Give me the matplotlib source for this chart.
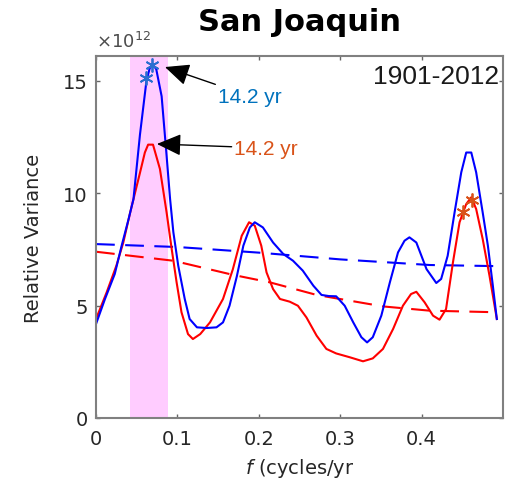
import numpy as np
import matplotlib.pyplot as plt

# values in units of 1e12
f_blue = [0, 0.011, 0.023, 0.0315, 0.040, 0.046, 0.054, 0.062, 0.066, 0.070, 0.074, 0.0806, 0.0867,
          0.091, 0.095, 0.101, 0.109, 0.115, 0.124, 0.136, 0.148, 0.156, 0.164, 0.173, 0.181,
          0.189, 0.195, 0.205, 0.2175, 0.230, 0.242, 0.254, 0.267, 0.277, 0.286, 0.295, 0.3055,
          0.316, 0.326, 0.333, 0.340, 0.3505, 0.361, 0.371, 0.379, 0.385, 0.3935, 0.406, 0.418,
          0.424, 0.432, 0.4405, 0.4487, 0.4548, 0.461, 0.467, 0.475, 0.4814, 0.4875, 0.4924]
v_blue = [4.18, 5.29, 6.4, 7.66, 8.84, 9.73, 12.6, 15.0, 15.55, 15.7, 15.5, 14.3, 11.66,
          9.73, 8.26, 6.77, 5.29, 4.4, 4.03, 4.0, 4.03, 4.25, 4.99, 6.3, 7.66,
          8.47, 8.7, 8.47, 7.8, 7.29, 6.99, 6.55, 5.88, 5.47, 5.42, 5.41, 4.99,
          4.25, 3.59, 3.36, 3.59, 4.55, 6.03, 7.36, 7.88, 8.03, 7.8, 6.62, 6.0,
          6.18, 7.21, 9.14, 10.92, 11.8, 11.8, 10.92, 9.14, 7.66, 5.88, 4.4]

f_red = [0, 0.013, 0.025, 0.0335, 0.042, 0.054, 0.060, 0.064, 0.070, 0.0785, 0.0867,
         0.093, 0.099, 0.105, 0.113, 0.119, 0.128, 0.140, 0.156, 0.168, 0.179, 0.188,
         0.195, 0.203, 0.2095, 0.2175, 0.226, 0.238, 0.248, 0.2585, 0.271, 0.283, 0.295,
         0.3117, 0.328, 0.340, 0.3525, 0.365, 0.377, 0.387, 0.3935, 0.4037, 0.414, 0.422,
         0.430, 0.4385, 0.4466, 0.4548, 0.461, 0.467, 0.475, 0.4834, 0.4924]
v_red = [4.4, 5.58, 6.77, 7.8, 9.14, 10.9, 11.8, 12.15, 12.15, 11.07, 9.14,
         7.5, 6.03, 4.7, 3.73, 3.51, 3.73, 4.25, 5.29, 6.6, 8.1, 8.7,
         8.55, 7.66, 6.47, 5.73, 5.29, 5.17, 4.99, 4.47, 3.66, 3.07, 2.87,
         2.7, 2.52, 2.65, 3.07, 3.96, 4.99, 5.51, 5.61, 5.14, 4.55, 4.37,
         4.84, 6.92, 8.7, 9.51, 9.81, 9.29, 7.96, 6.32, 4.4]

# red-noise backgrounds (dashed)
f_blue_bg = [0, 0.1, 0.2, 0.3, 0.41, 0.4924]
v_blue_bg = [7.73, 7.6, 7.35, 7.05, 6.8, 6.75]
f_red_bg = [0, 0.095, 0.1685, 0.2135, 0.271, 0.3525, 0.41, 0.4924]
v_red_bg = [7.39, 6.99, 6.36, 6.03, 5.47, 4.96, 4.77, 4.7]

# significant peaks
f_blue_pk = [0.062, 0.069]
v_blue_pk = [15.1, 15.7]
f_red_pk = [0.451, 0.462]
v_red_pk = [9.17, 9.7]

band = [0.042, 0.088]
period_label = '14.2 yr'
years = '1901-2012'

c_blue_txt = '#0072BD'
c_red_txt = '#D95319'


def main():
    fig = plt.figure(figsize=(5.23, 4.81), dpi=100)
    ax = fig.add_axes([0.1836, 0.1289, 0.7782, 0.7526])

    ax.axvspan(band[0], band[1], color='#FFCCFF', lw=0, zorder=0)

    ax.plot(f_blue_bg, v_blue_bg, color='blue', lw=1.5, dashes=(9, 5))
    ax.plot(f_red_bg, v_red_bg, color='red', lw=1.5, dashes=(9, 5))
    ax.plot(f_red, v_red, color='red', lw=1.5)
    ax.plot(f_blue, v_blue, color='blue', lw=1.5)

    # matlab style asterisk
    ast = (6, 2, 0)
    ax.plot(f_blue_pk, v_blue_pk, ls='none', marker=ast, color='#2A6FD0', ms=10, mew=1.3)
    ax.plot(f_red_pk, v_red_pk, ls='none', marker=ast, color=c_red_txt, ms=10, mew=1.3)

    arrow = dict(arrowstyle='-|>,head_length=1.0,head_width=0.45', color='black', lw=1,
                 shrinkA=0, shrinkB=0)
    ax.annotate(period_label, xy=(0.0847, 15.6), xytext=(0.150, 14.3), color=c_blue_txt,
                fontsize=15, family='Liberation Sans', va='center', arrowprops=arrow)
    ax.annotate(period_label, xy=(0.0748, 12.18), xytext=(0.170, 12.0), color=c_red_txt,
                fontsize=15, family='Liberation Sans', va='center', arrowprops=arrow)

    ax.text(0.99, 0.945, years, transform=ax.transAxes, ha='right', va='center',
            fontsize=19, family='Liberation Sans', color='#1a1a1a')

    ax.set_xlim(0, 0.5)
    ax.set_ylim(0, 16.09)
    ax.set_xticks([0, 0.1, 0.2, 0.3, 0.4])
    ax.set_xticklabels(['0', '0.1', '0.2', '0.3', '0.4'])
    ax.set_yticks([0, 5, 10, 15])
    ax.tick_params(direction='in', length=3, width=1, top=True, right=True,
                   labelsize=14, colors='#666666', labelcolor='#262626')
    ax.tick_params(axis='x', pad=8)
    ax.tick_params(axis='y', pad=6)
    for s in ax.spines.values():
        s.set_color('#808080')
        s.set_linewidth(1.5)

    ax.set_xlabel('$f$ (cycles/yr', fontsize=14, color='#262626', labelpad=6)
    ax.set_ylabel('Relative Variance', fontsize=14, color='#262626', labelpad=14)
    ax.set_title('San Joaquin', fontsize=22, fontweight='bold', pad=19)
    ax.text(0.0, 1.015, r'$\times$10$^{12}$', transform=ax.transAxes, fontsize=13,
            color='#4d4d4d', va='bottom', ha='left')

    fig.savefig('out.png', dpi=100)


if __name__ == "__main__":
    main()
